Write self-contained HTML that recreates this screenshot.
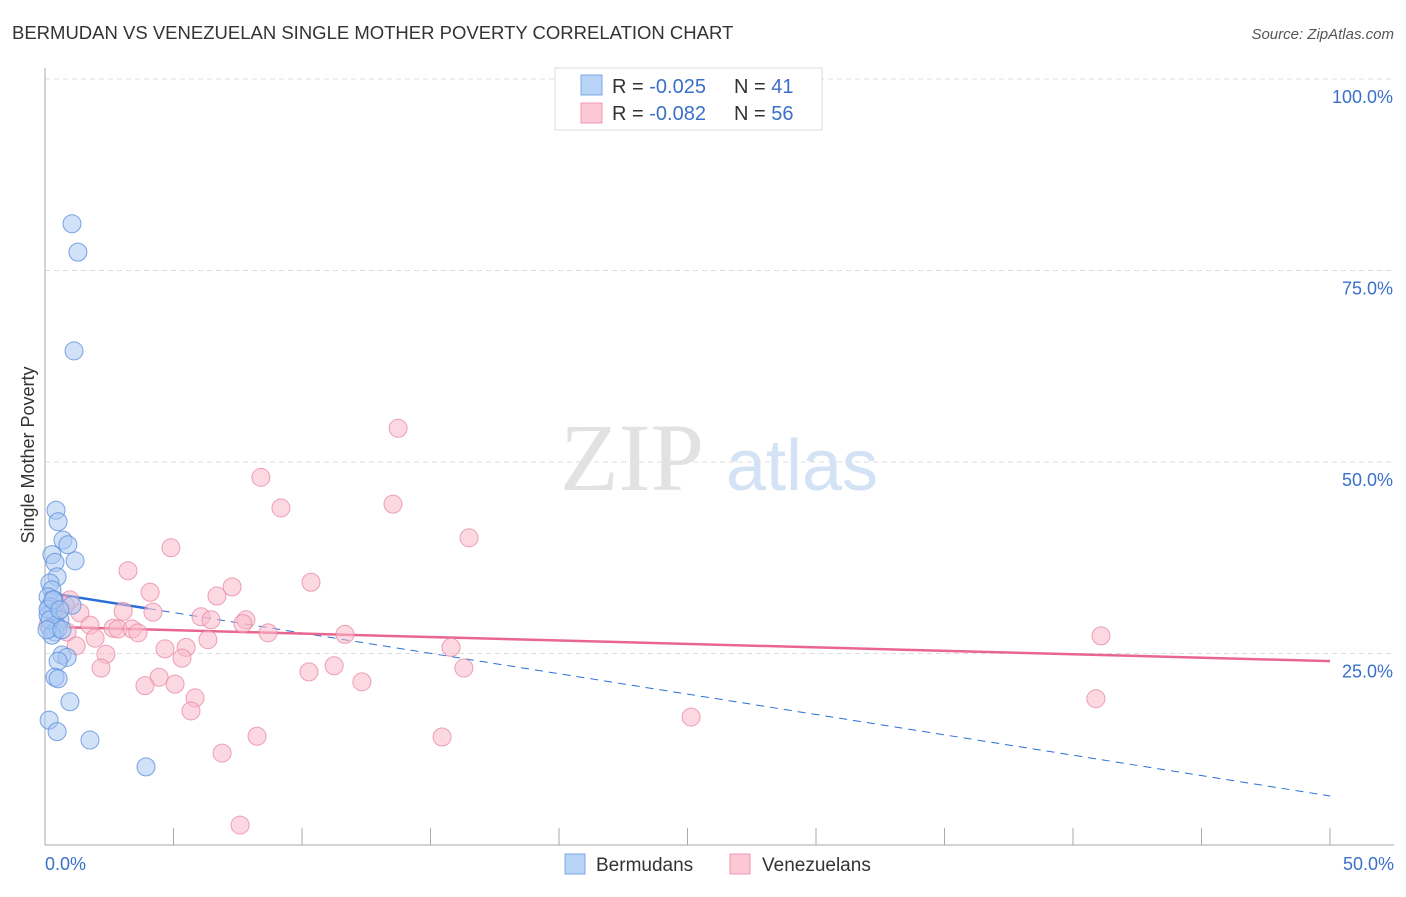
<!DOCTYPE html>
<html><head><meta charset="utf-8"><style>
body{margin:0;background:#fff;font-family:"Liberation Sans",sans-serif;}
</style></head><body>
<svg width="1406" height="892" viewBox="0 0 1406 892" xmlns="http://www.w3.org/2000/svg" font-family="Liberation Sans, sans-serif">
<text x="12" y="39" font-size="18.5" fill="#333">BERMUDAN VS VENEZUELAN SINGLE MOTHER POVERTY CORRELATION CHART</text>
<text x="1394" y="39" font-size="15" fill="#555" font-style="italic" text-anchor="end">Source: ZipAtlas.com</text>
<g id="grid"></g>
<text x="632" y="490" font-size="96" fill="#e2e2e2" font-family="Liberation Serif, serif" text-anchor="middle">ZIP</text>
<text x="802" y="490" font-size="72" fill="#d3e2f5" text-anchor="middle">atlas</text>
<g id="axes"></g>
<g id="trend"></g>
<g id="pts"></g>
<text transform="translate(34,455) rotate(-90)" font-size="18" fill="#333" text-anchor="middle">Single Mother Poverty</text>
<g>
<rect x="555" y="68" width="267" height="62" fill="#fff" stroke="#ddd"/>
<rect x="581" y="75" width="21" height="20" fill="#b9d3f6" stroke="#7aa9e6"/>
<rect x="581" y="103" width="21" height="20" fill="#fcc8d6" stroke="#ef99b1"/>
<text x="612" y="93" font-size="20" fill="#333">R = <tspan fill="#3a70c9">-0.025</tspan></text>
<text x="734" y="93" font-size="20" fill="#333">N = <tspan fill="#3a70c9"> 41</tspan></text>
<text x="612" y="120" font-size="20" fill="#333">R = <tspan fill="#3a70c9">-0.082</tspan></text>
<text x="734" y="120" font-size="20" fill="#333">N = <tspan fill="#3a70c9">56</tspan></text>
</g>
<g>
<rect x="565" y="854" width="20" height="20" fill="#b9d3f6" stroke="#7aa9e6"/>
<text x="596" y="871" font-size="19" fill="#333">Bermudans</text>
<rect x="730" y="854" width="20" height="20" fill="#fcc8d6" stroke="#ef99b1"/>
<text x="762" y="871" font-size="19" fill="#333">Venezuelans</text>
</g>
</svg>
<script>
const yTicks=[25,50,75,100];
const yTickLabels=["25.0%","50.0%","75.0%","100.0%"];
const xTickLabels=["0.0%","50.0%"];
const blueX=[1.05,1.28,1.13,0.43,0.51,0.70,0.89,0.27,0.39,1.17,0.47,0.19,0.27,0.12,0.35,1.05,0.19,0.31,0.12,0.58,0.43,0.19,0.39,0.51,0.27,0.66,0.86,0.51,0.39,0.51,0.97,0.16,0.47,1.75,3.93,0.12,0.19,0.31,0.08,0.58,0.66];
const blueY=[81.1,77.4,64.5,43.7,42.2,39.8,39.2,37.9,36.9,37.1,35.0,34.2,33.3,32.4,32.0,31.3,31.1,30.4,30.0,29.4,28.7,28.3,27.8,28.3,27.4,24.8,24.5,24.0,21.9,21.7,18.7,16.3,14.8,13.7,10.2,30.8,29.4,32.0,28.1,30.7,28.1];
const pinkX=[13.74,8.40,13.54,9.18,16.50,4.90,3.23,10.35,7.28,4.09,6.69,3.04,4.20,1.36,6.07,6.46,7.82,7.70,1.75,2.65,2.84,3.39,3.62,0.86,8.68,11.67,41.09,1.95,6.34,1.21,5.49,15.80,4.67,2.37,5.33,11.25,2.18,16.30,10.27,4.44,5.06,12.33,3.89,5.84,40.89,5.68,25.14,8.25,15.45,6.89,7.59,0.58,0.97,0.39,0.78,0.12];
const pinkY=[54.4,48.0,44.5,44.0,40.1,38.8,35.8,34.3,33.7,33.0,32.5,30.5,30.4,30.3,29.8,29.4,29.4,28.9,28.7,28.3,28.2,28.2,27.7,27.8,27.7,27.5,27.3,27.0,26.8,26.0,25.8,25.8,25.6,24.9,24.4,23.4,23.1,23.1,22.6,21.9,21.0,21.3,20.8,19.2,19.1,17.5,16.7,14.2,14.1,12.0,2.6,30.7,32.0,29.4,31.3,28.7];
const blueTrend=[33.0,6.4];
const pinkTrend=[28.5,24.0];
const NS="http://www.w3.org/2000/svg";
const X=v=>45+v/50*1285, Y=v=>845-v/100*766;
function mk(t,a,p){const e=document.createElementNS(NS,t);for(const k in a)e.setAttribute(k,a[k]);p.appendChild(e);return e;}
const grid=document.getElementById('grid'),axes=document.getElementById('axes'),trend=document.getElementById('trend'),pts=document.getElementById('pts');
yTicks.forEach((t,i)=>{
 const l=mk('line',{x1:45,x2:1394,y1:Y(t),y2:Y(t),stroke:'#ddd','stroke-dasharray':'5,4'},grid);
 
 
 const tx=mk('text',{x:1393,y:Y(t)+24,'font-size':18,fill:'#3a70c9','text-anchor':'end'},axes);
 tx.textContent=yTickLabels[i];
 
 
});
mk('line',{x1:45,x2:45,y1:68,y2:845,stroke:'#aaa'},axes);
mk('line',{x1:45,x2:1394,y1:845,y2:845,stroke:'#aaa'},axes);
for(let i=0;i<=10;i++){const x=X(i*5);mk('line',{x1:x,x2:x,y1:828,y2:845,stroke:'#aaa'},axes);}
[[0,'start',45],[1,'end',1394]].forEach(([i,a,x])=>{const t=mk('text',{x:x,y:870,'font-size':18,fill:'#3a70c9','text-anchor':a},axes);t.textContent=xTickLabels[i];
 
 });
function dot(x,y,f,s,n){const c=mk('circle',{cx:X(x),cy:Y(y),r:9,fill:f,'fill-opacity':0.55,stroke:s,'stroke-opacity':0.8,'stroke-width':1},pts);
 
 }
pinkX.forEach((x,i)=>dot(x,pinkY[i],'#f9b9cb','#e88aa5','venezuelan-point'));
blueX.forEach((x,i)=>dot(x,blueY[i],'#a9c8f2','#5b8fdc','bermudan-point'));
const by=x=>blueTrend[0]+(blueTrend[1]-blueTrend[0])*x/50;
const b1=mk('line',{x1:X(0),y1:Y(by(0)),x2:X(4),y2:Y(by(4)),stroke:'#2a6fd6','stroke-width':2.5},trend);


const b2=mk('line',{x1:X(4),y1:Y(by(4)),x2:X(50),y2:Y(by(50)),stroke:'#2a6fd6','stroke-width':1,'stroke-dasharray':'8,6'},trend);


const p1=mk('line',{x1:X(0),y1:Y(pinkTrend[0]),x2:X(50),y2:Y(pinkTrend[1]),stroke:'#e8668f','stroke-width':2.5},trend);


</script>
</body></html>
